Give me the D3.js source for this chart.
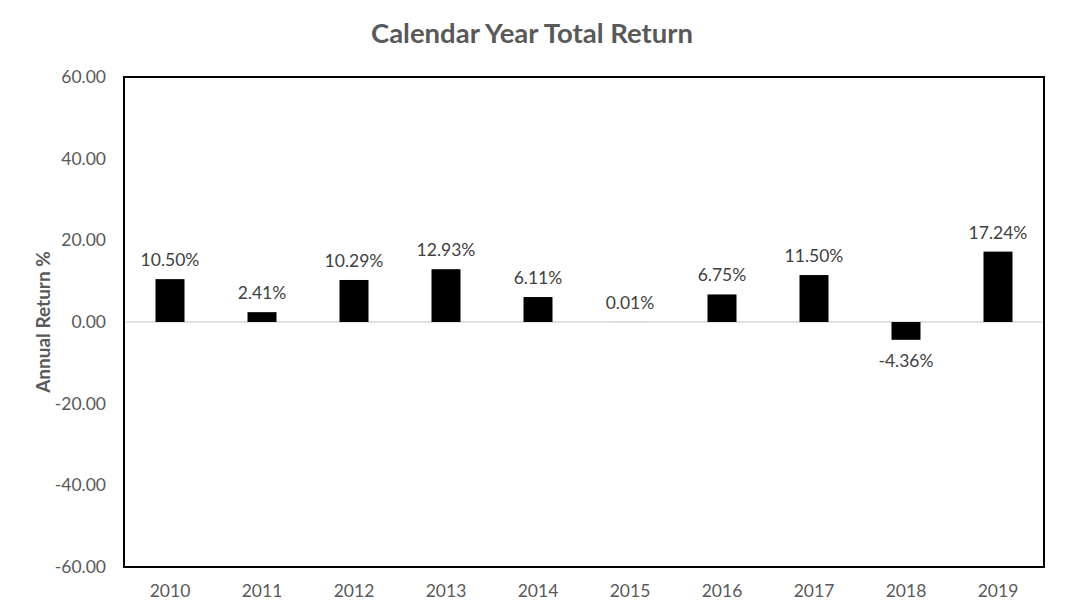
<!DOCTYPE html>
<html lang="en">
<head>
    <meta charset="utf-8" />
    <title>Calendar Year Total Return</title>
    <script src="https://d3js.org/d3.v7.min.js"></script>
    <style>
        body { margin: 0; background: #fff; }
        text { font-family: Lato, "Open Sans", sans-serif; }
    </style>
</head>
<body>
    <svg width="1066" height="616"></svg>
    <script>
        // data
        let years = ["2010", "2011", "2012", "2013", "2014", "2015", "2016", "2017", "2018", "2019"];
        let returns = [10.50, 2.41, 10.29, 12.93, 6.11, 0.01, 6.75, 11.50, -4.36, 17.24];
        let yTicks = [-60, -40, -20, 0, 20, 40, 60];

        let width = 1066, height = 616;
        let margin = { top: 77, right: 22, bottom: 49, left: 124 };
        let font = "Lato, 'Open Sans', sans-serif";

        let svg = d3.select("svg");

        let x = d3.scaleBand()
            .domain(years)
            .range([margin.left, width - margin.right])
            .paddingInner(0.685)
            .paddingOuter(0.3425);

        let y = d3.scaleLinear()
            .domain([-60, 60])
            .range([height - margin.bottom, margin.top]);

        // plain hyphen for negatives, like the original
        let fmt = d => d.toFixed(2);

        // title
        svg.append("text")
            .attr("x", 532)
            .attr("y", 43)
            .attr("text-anchor", "middle")
            .attr("font-size", 27.5)
            .attr("font-weight", "bold")
            .attr("fill", "#595959")
            .text("Calendar Year Total Return");

        // y axis tick labels
        svg.append("g")
            .attr("transform", "translate(" + margin.left + ",0)")
            .call(d3.axisLeft(y).tickValues(yTicks).tickFormat(fmt).tickSize(0).tickPadding(18))
            .call(g => g.select(".domain").remove())
            .selectAll("text")
            .attr("font-size", 17.5)
            .attr("font-family", font)
            .attr("fill", "#595959");

        // x axis labels
        svg.append("g")
            .attr("transform", "translate(0," + (height - margin.bottom) + ")")
            .call(d3.axisBottom(x).tickSize(0).tickPadding(18))
            .call(g => g.select(".domain").remove())
            .selectAll("text")
            .attr("font-size", 17.5)
            .attr("font-family", font)
            .attr("fill", "#595959");

        // zero line
        svg.append("line")
            .attr("x1", margin.left)
            .attr("x2", width - margin.right)
            .attr("y1", y(0))
            .attr("y2", y(0))
            .attr("stroke", "#d9d9d9")
            .attr("stroke-width", 1.5);

        // bars
        svg.append("g")
            .selectAll("rect")
            .data(returns)
            .enter()
            .append("rect")
            .attr("x", (d, i) => x(years[i]))
            .attr("width", x.bandwidth())
            .attr("y", d => y(Math.max(0, d)))
            .attr("height", d => Math.abs(y(d) - y(0)))
            .attr("fill", "#000");

        // data labels
        svg.append("g")
            .selectAll("text")
            .data(returns)
            .enter()
            .append("text")
            .attr("x", (d, i) => x(years[i]) + x.bandwidth() / 2)
            .attr("y", d => d >= 0 ? y(d) - 13 : y(d) + 27)
            .attr("text-anchor", "middle")
            .attr("font-size", 17.5)
            .attr("fill", "#404040")
            .text(d => d.toFixed(2) + "%");

        // plot border
        svg.append("rect")
            .attr("x", margin.left)
            .attr("y", margin.top)
            .attr("width", width - margin.left - margin.right)
            .attr("height", height - margin.top - margin.bottom)
            .attr("fill", "none")
            .attr("stroke", "#000")
            .attr("stroke-width", 2);

        // y axis title
        svg.append("text")
            .attr("transform", "translate(50," + y(0) + ") rotate(-90)")
            .attr("text-anchor", "middle")
            .attr("font-size", 19)
            .attr("font-weight", "bold")
            .attr("fill", "#595959")
            .text("Annual Return %");
    </script>
</body>
</html>
